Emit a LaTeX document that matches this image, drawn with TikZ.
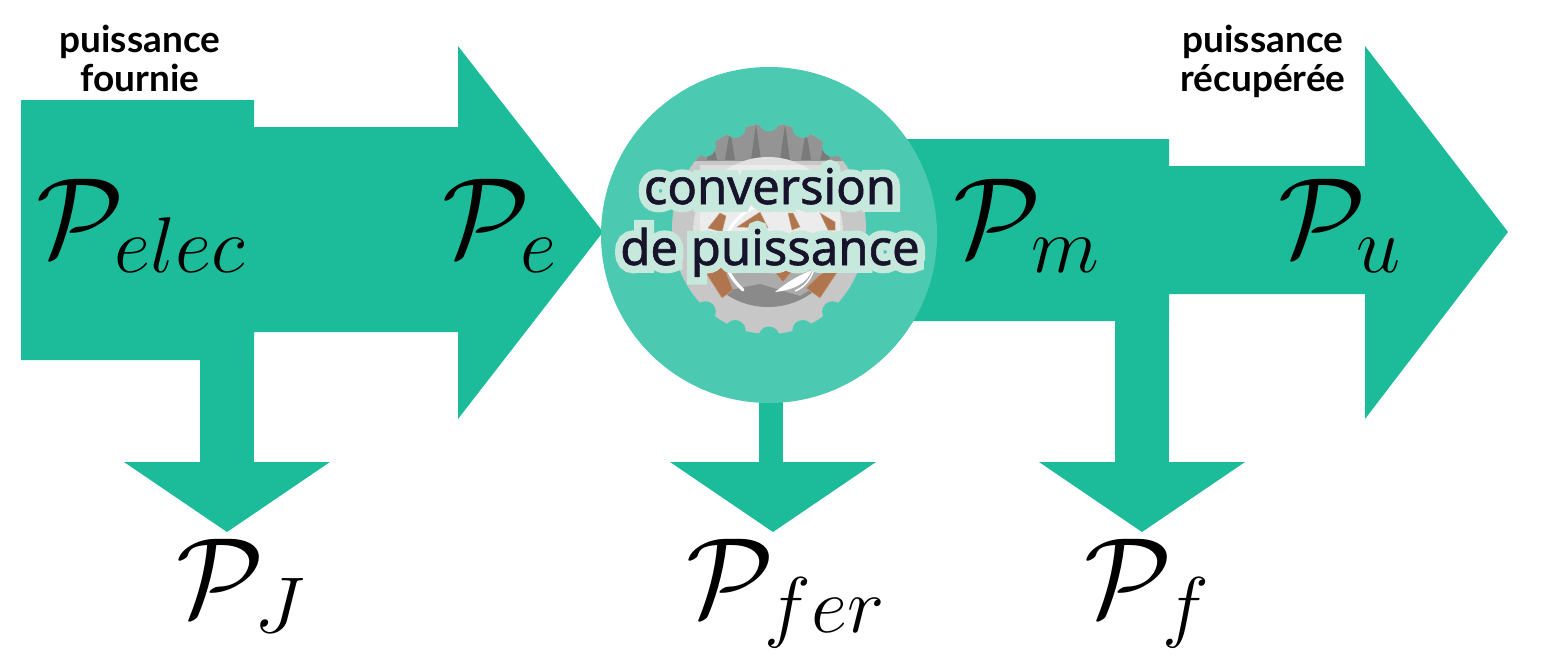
\documentclass[tikz,border=0pt]{standalone}
\usepackage{fix-cm}
\usepackage{amsmath}
\usepackage{fontspec}
\setmainfont{Lato}
\newfontfamily\convfont[FakeBold=1.2]{Noto Sans}
\newfontfamily\halofont[FakeBold=32]{Noto Sans}
\definecolor{flux}{HTML}{1CBC9B}
\definecolor{conv}{HTML}{4CCAB1}
\definecolor{halo}{HTML}{C6E8DD}
\definecolor{ink}{HTML}{16132B}
\definecolor{copper}{HTML}{B0754C}
\tikzset{
  x=1pt, y=-1pt,
  flow/.style     = {fill=flux},
  powerlabel/.style = {inner sep=0pt, anchor=base west, font=\fontsize{113}{113}\selectfont},
  caption/.style  = {inner sep=0pt, align=center, font=\fontsize{37}{39}\selectfont\bfseries},
  convtext/.style = {inner sep=0pt, anchor=base, text=ink, font=\fontsize{49}{49}\selectfont\convfont},
  coil/.style     = {fill=copper, draw=copper!70!white, line width=0.5pt},
  rotorarc/.style = {draw=white, line width=3pt, line cap=round}
}
\newcommand{\DrawDrop}[5]{%
  % stem between #3 and #4 from the top y #5, head centred at #2
  \fill[flow] (#3,#5) rectangle (#4,463);
  \fill[flow] (#2-103,462) -- (#2+103,462) -- (#2,532) -- cycle;
  \coordinate (#1) at (#2,532);
}
\newcommand{\Halotext}[1]{\rlap{\halofont\textcolor{halo}{#1}}#1}
\begin{document}
\begin{tikzpicture}
  \useasboundingbox (0,0) rectangle (1548,656);

  % left arrow and its box
  \fill[flow] (21,100) -- (254,100) -- (254,127) -- (458,127) -- (458,46) -- (603,232)
    -- (458,419) -- (458,332) -- (254,332) -- (254,360) -- (21,360) -- cycle;
  \DrawDrop{dropj}{227}{200}{254}{330}

  % right arrow
  \fill[flow] (890,139) -- (1169,139) -- (1169,166) -- (1365,166) -- (1365,46) -- (1508,232)
    -- (1365,419) -- (1365,294) -- (1169,294) -- (1169,321) -- (890,321) -- cycle;
  \DrawDrop{dropf}{1142}{1115}{1169}{320}

  % losses of the converter
  \DrawDrop{dropfer}{773}{759}{783}{390}
  \node[circle,fill=conv,minimum size=336pt,inner sep=0pt] (conv) at (769,235) {};

  % gear: dark top, light bottom, notches cut with the disc colour
  \fill[black!22] (769,229) ellipse (97 and 105);
  \begin{scope}
    \clip (660,110) rectangle (880,160);
    \fill[black!42] (769,229) ellipse (97 and 105);
    \foreach \x/\h in {712/22,730/30,756/36,785/36,806/30,825/20}{
      \fill[black!52] (\x-5,160) -- (\x,160-\h) -- (\x+5,160) -- cycle;
    }
  \end{scope}
  \foreach \a in {50,70,...,130,230,250,...,310}{
    \fill[conv] (769,229) ++(\a:99 and 108) circle (10.5);
  }
  \fill[black!12] (768,232) circle (75);
  \begin{scope}
    \clip (768,232) circle (75);
    \fill[black!33] (690,262) rectangle (850,310);
    \fill[black!46] (720,292) -- (760,284) -- (800,296) -- (820,284) -- (850,310) -- (690,310) -- cycle;
  \end{scope}

  % pale band behind the text
  \fill[white,opacity=0.4] (700,165) rectangle (840,262);

  % windings
  \fill[coil] (704,270) -- (722,262) -- (733,290) -- (722,298) -- cycle;
  \fill[coil] (806,288) -- (827,268) -- (840,268) -- (820,298) -- cycle;
  \fill[coil] (773,270) -- (793,270) -- (783,282) -- cycle;
  \fill[coil] (708,228) -- (720,213) -- (726,216) -- (722,232) -- cycle;
  \fill[coil] (737,227) -- (760,212) -- (768,228) -- cycle;
  \fill[coil] (788,213) -- (793,213) -- (800,227) -- (792,230) -- cycle;
  \fill[coil] (820,213) -- (835,222) -- (835,230) -- (828,230) -- cycle;

  % white arcs of the rotor
  \draw[rotorarc] (763,204) .. controls (730,212) and (705,255) .. (743,290);
  \fill[white] (775,292) .. controls (790,280) and (800,275) .. (812,270)
    .. controls (808,282) and (795,290) .. cycle;
  \draw[white,line width=1.5pt] (795,291) .. controls (805,287) and (812,278) .. (814,268);

  % captions
  \node[caption] (capin) at (140,58) {puissance\\fournie};
  \node[caption] (capout) at (1263,61) {puissance\\récupérée};

  \node[convtext] (convup) at (770,204) {\Halotext{conversion}};
  \node[convtext] (convdown) at (770,265) {\Halotext{de puissance}};

  % power labels
  \node[powerlabel] (pelec) at (36,256) {$\mathcal{P}_{elec}$};
  \node[powerlabel] (pe)    at (442,256) {$\mathcal{P}_{e}$};
  \node[powerlabel] (pm)    at (953,256) {$\mathcal{P}_{m}$};
  \node[powerlabel] (pu)    at (1278,256) {$\mathcal{P}_{u}$};
  \node[powerlabel] (pj)    at (176,616) {$\mathcal{P}_{J}$};
  \node[powerlabel] (pfer)  at (686,616) {$\mathcal{P}_{fer}$};
  \node[powerlabel] (pf)    at (1084,616) {$\mathcal{P}_{f}$};
\end{tikzpicture}
\end{document}
